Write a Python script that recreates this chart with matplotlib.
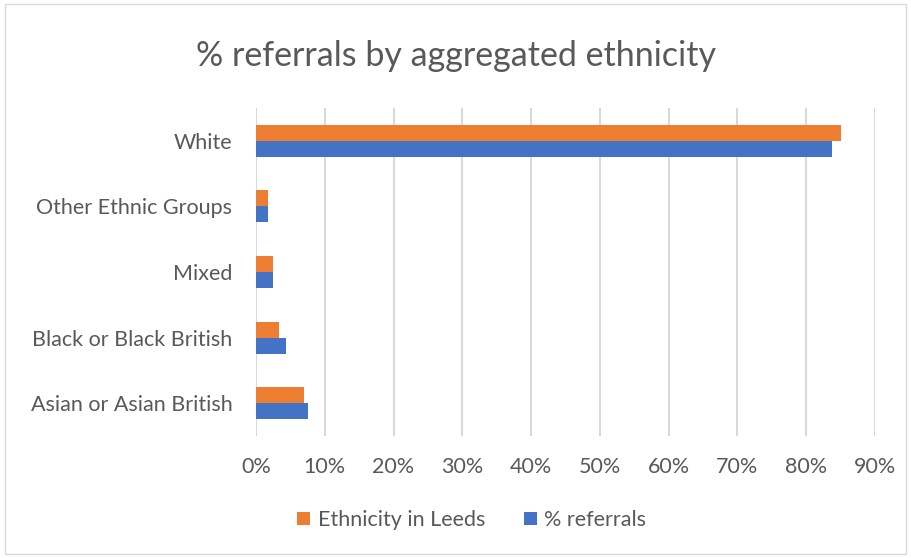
import matplotlib.pyplot as plt
from matplotlib.patches import Rectangle
from matplotlib.ticker import PercentFormatter

# Share of referrals vs share of Leeds population, by aggregated ethnicity
categories = ["Asian or Asian British", "Black or Black British", "Mixed",
              "Other Ethnic Groups", "White"]
leeds_pct = [7.0, 3.3, 2.5, 1.8, 85.1]
referral_pct = [7.6, 4.3, 2.5, 1.7, 83.8]

ORANGE = "#ed7d31"
BLUE = "#4472c4"
TEXT = "#595959"
GRID = "#d9d9d9"

plt.rcParams["font.family"] = ["Lato", "DejaVu Sans"]

fig = plt.figure(figsize=(9.11, 5.58), dpi=100)
ax = fig.add_axes([0.281, 0.2186, 0.6795, 0.588])

y = range(len(categories))
h = 0.245
ax.barh([i - h / 2 for i in y], referral_pct, height=h, color=BLUE,
        label="% referrals", zorder=3)
ax.barh([i + h / 2 for i in y], leeds_pct, height=h, color=ORANGE,
        label="Ethnicity in Leeds", zorder=3)

ax.set_xlim(0, 90)
ax.set_ylim(-0.5, len(categories) - 0.5)
ax.set_xticks(range(0, 91, 10))
ax.xaxis.set_major_formatter(PercentFormatter(decimals=0))
ax.set_yticks(list(y))
ax.set_yticklabels(categories)
ax.tick_params(axis="both", length=0, labelsize=15.5, colors=TEXT)
ax.tick_params(axis="x", pad=15)
ax.tick_params(axis="y", pad=17)
ax.grid(axis="x", color=GRID, linewidth=1.5, zorder=0)
for side in ["top", "right", "bottom", "left"]:
    ax.spines[side].set_visible(False)

fig.text(0.5, 0.9, "% referrals by aggregated ethnicity", ha="center",
         va="center", fontsize=24.5, color=TEXT)

handles, labels = ax.get_legend_handles_labels()
fig.legend(handles[::-1], labels[::-1], loc="center", bbox_to_anchor=(0.518, 0.068),
           ncol=2, frameon=False, fontsize=15.5, labelcolor=TEXT,
           handlelength=0.6, handleheight=0.6, handletextpad=0.35, columnspacing=1.8)

# light border round the whole chart
fig.patches.append(Rectangle((0.006, 0.008), 0.988, 0.984, transform=fig.transFigure,
                             fill=False, edgecolor=GRID, linewidth=1))

fig.savefig("out.png", dpi=100)
